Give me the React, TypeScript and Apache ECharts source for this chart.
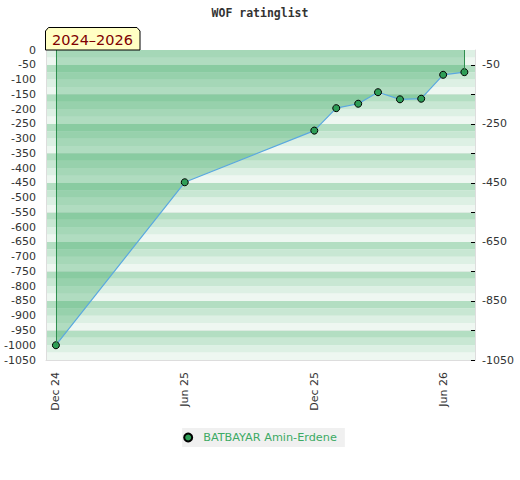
import React, { useEffect, useRef } from "react";
import * as echarts from "echarts";

// ---- data ----
const pointDates = [
  "2024-12-01", "2025-06-01", "2025-12-01", "2026-01-01", "2026-02-01",
  "2026-03-01", "2026-04-01", "2026-05-01", "2026-06-01", "2026-07-01",
];
const pointValues = [-1000, -448, -273, -197, -182, -143, -167, -165, -84, -75];
const seriesName = "BATBAYAR Amin-Erdene";
const xLabelDates = ["2024-12-01", "2025-06-01", "2025-12-01", "2026-06-01"];
const monthNames = ["Jan", "Feb", "Mar", "Apr", "May", "Jun", "Jul", "Aug", "Sep", "Oct", "Nov", "Dec"];
const rightTicks = [-1050, -950, -850, -750, -650, -550, -450, -350, -250, -150, -50];
const rightLabels = [-1050, -850, -650, -450, -250, -50];
const xRange = ["2024-11-17", "2026-07-16"];
const yRange = [-1050, 0];
const stripeColors = ["#eef7f1", "#ddf0e4", "#c8e7d3", "#b3dec2"];

const ts = (s: string) => {
  const [y, m, d] = s.split("-").map(Number);
  return Date.UTC(y, m - 1, d);
};

export default function App() {
  const ref = useRef<HTMLDivElement>(null);
  useEffect(() => {
    if (!ref.current) return;
    const chart = echarts.init(ref.current, null, { renderer: "svg" });
    const data = pointDates.map((d, i) => [ts(d), pointValues[i]]);
    const first = data[0];
    const last = data[data.length - 1];
    chart.setOption({
      animation: false,
      backgroundColor: "#ffffff",
      textStyle: { fontFamily: "DejaVu Sans" },
      title: {
        text: "WOF ratinglist",
        left: "center",
        top: 7,
        padding: 0,
        textStyle: {
          fontFamily: "DejaVu Sans Mono",
          fontWeight: "bold",
          fontSize: 11.5,
          color: "#333333",
        },
      },
      grid: {
        left: 46,
        right: 45,
        top: 50,
        bottom: 120,
        containLabel: false,
        outerBoundsMode: "none",
      },
      legend: {
        bottom: 33,
        left: "center",
        backgroundColor: "#f0f0f0",
        padding: [4, 8, 4, 1],
        itemWidth: 20,
        itemHeight: 8,
        icon: "circle",
        textStyle: { fontSize: 11.25, color: "#3caa64", fontFamily: "DejaVu Sans" },
        data: [seriesName],
      },
      xAxis: {
        type: "value",
        min: ts(xRange[0]),
        max: ts(xRange[1]),
        axisLine: { show: true, onZero: false, lineStyle: { color: "#dddddd" } },
        axisTick: { show: false },
        splitLine: { show: false },
        axisLabel: {
          customValues: xLabelDates.map(ts),
          rotate: 90,
          margin: 12,
          fontSize: 11,
          color: "#333333",
          formatter: (v: number) => {
            const d = new Date(v);
            return monthNames[d.getUTCMonth()] + " " + String(d.getUTCFullYear()).slice(2);
          },
        },
      },
      yAxis: [
        {
          type: "value",
          min: yRange[0],
          max: yRange[1],
          interval: 50,
          position: "left",
          axisLine: { show: true, lineStyle: { color: "#dddddd" } },
          axisTick: { show: false },
          splitLine: { show: false },
          axisLabel: {
            fontSize: 11,
            color: "#333333",
            margin: 10,
            formatter: (v: number) => String(v),
          },
        },
        {
          type: "value",
          min: yRange[0],
          max: yRange[1],
          position: "right",
          axisLine: { show: true, lineStyle: { color: "#dddddd" } },
          axisTick: {
            show: true,
            inside: true,
            length: 4,
            customValues: rightTicks,
            lineStyle: { color: "#000000" },
          },
          splitLine: { show: true, lineStyle: { color: "#dddddd", width: 1 } },
          axisLabel: {
            customValues: rightLabels,
            fontSize: 11,
            color: "#333333",
            margin: 7,
            formatter: (v: number) => String(v),
          },
        },
        {
          type: "value",
          min: yRange[0],
          max: yRange[1],
          interval: 25,
          position: "left",
          show: true,
          axisLine: { show: false },
          axisTick: { show: false },
          axisLabel: { show: false },
          splitLine: { show: false },
          splitArea: { show: true, areaStyle: { color: stripeColors } },
        },
      ],
      series: [
        {
          name: seriesName,
          type: "line",
          yAxisIndex: 0,
          data,
          symbol: "circle",
          symbolSize: 7,
          itemStyle: { color: "#2e9e57", borderColor: "#000000", borderWidth: 1 },
          lineStyle: { color: "#5aa8e0", width: 1.2 },
          areaStyle: { origin: "end", color: "rgba(60,170,100,0.5)" },
          z: 3,
          markLine: {
            silent: true,
            symbol: "none",
            label: { show: false },
            lineStyle: { color: "#2f8f4f", width: 1, type: "solid" },
            data: [
              [{ coord: [first[0], yRange[1]] }, { coord: [first[0], first[1]] }],
              [{ coord: [last[0], yRange[1]] }, { coord: [last[0], last[1]] }],
            ],
          },
        },
      ],
      graphic: [
        {
          type: "polygon",
          shape: {
            points: [[45.5, 50], [45.5, 31], [48.5, 27.5], [137, 27.5], [140, 31], [140, 50]],
          },
          style: { fill: "#ffffc4", stroke: "#000000", lineWidth: 1 },
          z: 10,
        },
        {
          type: "text",
          x: 92.5,
          y: 39.5,
          style: {
            text: "2024–2026",
            fill: "#800000",
            font: "14.5px 'DejaVu Sans'",
            textAlign: "center",
            textVerticalAlign: "middle",
          },
          z: 11,
        },
      ],
    });
    return () => chart.dispose();
  }, []);
  return (
    <div
      ref={ref}
      style={{ position: "absolute", left: 0, top: 0, width: 520, height: 480 }}
    />
  );
}
